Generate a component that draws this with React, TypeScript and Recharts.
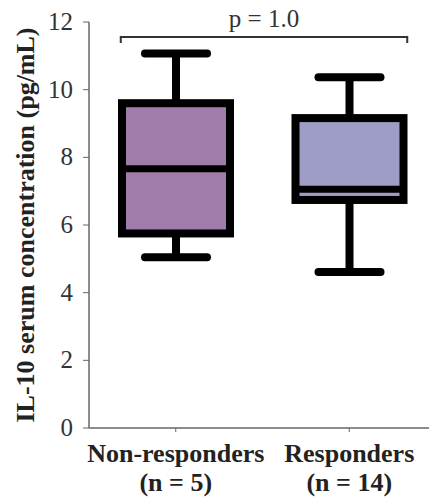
import React from 'react';
import { ComposedChart, Bar, XAxis, YAxis, ReferenceLine } from 'recharts';

const groups = ['Non-responders', 'Responders'];
const groupCounts = ['(n = 5)', '(n = 14)'];
const mins = [5.05, 4.61];
const q1s = [5.75, 6.74];
const medians = [7.66, 7.06];
const q3s = [9.6, 9.16];
const maxs = [11.07, 10.37];
const fills = ['#9f7ca9', '#9d9dc5'];
const yTicks = [0, 2, 4, 6, 8, 10, 12];
const pLabel = 'p = 1.0';
const bracketY = 11.56;

const data = groups.map((name, i) => ({
  name,
  count: groupCounts[i],
  min: mins[i],
  q1: q1s[i],
  median: medians[i],
  q3: q3s[i],
  max: maxs[i],
  fill: fills[i],
}));

const serif = '"Liberation Serif", "Times New Roman", serif';
const BOX_HALF = 57;

const BoxShape = (props: any) => {
  const { x, y, width, height, payload } = props;
  const { min, q1, median, q3, max, fill } = payload;
  const px = (v: number) => y + ((max - v) / (max - min)) * height;
  const cx = x + width / 2;
  const capHalf = 31;
  return (
    <g>
      <line x1={cx} x2={cx} y1={px(max)} y2={px(min)} stroke="#000" strokeWidth={8} />
      <line x1={cx - capHalf} x2={cx + capHalf} y1={px(max)} y2={px(max)} stroke="#000" strokeWidth={8} strokeLinecap="round" />
      <line x1={cx - capHalf} x2={cx + capHalf} y1={px(min)} y2={px(min)} stroke="#000" strokeWidth={8} strokeLinecap="round" />
      <rect x={x} y={px(q3)} width={width} height={px(q1) - px(q3)} fill={fill} stroke="#000" strokeWidth={8} />
      <line x1={x} x2={x + width} y1={px(median)} y2={px(median)} stroke="#000" strokeWidth={7} />
    </g>
  );
};

const XTick = (props: any) => {
  const { x, y, payload, index } = props;
  return (
    <text x={x} y={y} textAnchor="middle" style={{ fontFamily: serif }} fontWeight="bold" fontSize={26} fill="#222">
      <tspan x={x} dy={28}>{payload.value}</tspan>
      <tspan x={x} dy={29}>{groupCounts[index]}</tspan>
    </text>
  );
};

const YTick = (props: any) => {
  const { x, y, payload } = props;
  return (
    <text x={x} y={y} dy={8} textAnchor="end" style={{ fontFamily: serif }} fontSize={25} fill="#333">
      {payload.value}
    </text>
  );
};

const Bracket = (props: any) => {
  const { x1, x2, y1 } = props;
  const left = x1 - BOX_HALF + 2;
  const right = x2 + BOX_HALF + 1;
  return (
    <g>
      <path d={`M${left},${y1 + 6} L${left},${y1} L${right},${y1} L${right},${y1 + 6}`} fill="none" stroke="#333" strokeWidth={2} />
      <text x={(left + right) / 2} y={y1 - 10} textAnchor="middle" style={{ fontFamily: serif }} fontSize={25} fill="#333">
        {pLabel}
      </text>
    </g>
  );
};

export default function App() {
  return (
    <div style={{ position: 'absolute', left: 0, top: 0, width: 429, height: 500, overflow: 'hidden', background: '#fff' }}>
      <ComposedChart width={436} height={500} data={data} margin={{ top: 22, right: 0, bottom: 0, left: 29 }}>
        <XAxis
          dataKey="name"
          height={72}
          axisLine={{ stroke: '#666', strokeWidth: 1.5 }}
          tickLine={{ stroke: '#666' }}
          tickSize={4}
          tick={<XTick />}
          interval={0}
        />
        <YAxis
          width={60}
          domain={[0, 12]}
          ticks={yTicks}
          type="number"
          axisLine={{ stroke: '#666', strokeWidth: 1.5 }}
          tickLine={{ stroke: '#666' }}
          tickSize={6}
          tickMargin={10}
          tick={<YTick />}
          label={{
            content: ({ viewBox }: any) => (
              <text
                x={viewBox.x - 4}
                y={viewBox.y + viewBox.height / 2}
                transform={`rotate(-90, ${viewBox.x - 4}, ${viewBox.y + viewBox.height / 2})`}
                textAnchor="middle"
                dominantBaseline="central"
                style={{ fontFamily: serif }}
                fontWeight="bold"
                fontSize={26}
                fill="#222"
              >
                IL-10 serum concentration (pg/mL)
              </text>
            ),
          }}
        />
        <Bar
          dataKey={(d: any) => [d.min, d.max]}
          barSize={108}
          shape={<BoxShape />}
          isAnimationActive={false}
        />
        <ReferenceLine
          segment={[{ x: groups[0], y: bracketY }, { x: groups[1], y: bracketY }]}
          shape={<Bracket />}
          ifOverflow="visible"
        />
      </ComposedChart>
    </div>
  );
}
